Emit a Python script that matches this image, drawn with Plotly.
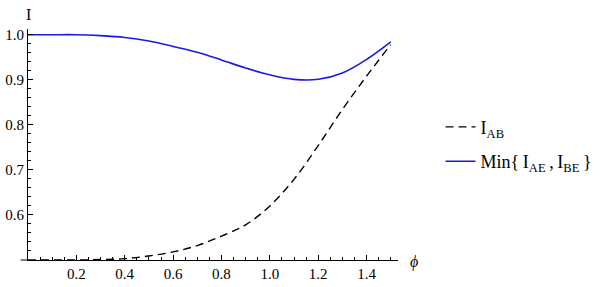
import plotly.graph_objects as go

phi = [0.0, 0.1, 0.2, 0.3, 0.4, 0.5, 0.6, 0.7, 0.8, 0.9, 1.0, 1.1, 1.2, 1.3, 1.4, 1.5]
i_ab = [0.500, 0.500, 0.500, 0.501, 0.503, 0.509, 0.518, 0.532, 0.553, 0.578, 0.620, 0.679, 0.754, 0.834, 0.908, 0.978]
min_ae_be = [1.000, 1.000, 1.000, 0.998, 0.994, 0.986, 0.974, 0.961, 0.944, 0.926, 0.911, 0.901, 0.901, 0.915, 0.945, 0.984]

x_ticks = [0.2, 0.4, 0.6, 0.8, 1.0, 1.2, 1.4]
y_ticks = [0.6, 0.7, 0.8, 0.9, 1.0]

font_family = "Liberation Serif"

fig = go.Figure()
fig.add_trace(go.Scatter(
    x=phi, y=i_ab, mode="lines", name="I<sub>AB</sub>", legendgroup="a",
    line=dict(color="black", width=1.4, dash="8px,5px", shape="spline", smoothing=1.0),
))
fig.add_trace(go.Scatter(
    x=phi, y=min_ae_be, mode="lines", legendgroup="b",
    name="Min{\u2009I<sub>AE</sub>\u2009,\u2009I<sub>BE</sub>\u2009}",
    line=dict(color="#1a1ae6", width=1.6, shape="spline", smoothing=1.0),
))

fig.update_layout(
    width=614, height=287,
    margin=dict(l=27.5, r=216, t=29, b=27, autoexpand=False),
    paper_bgcolor="white", plot_bgcolor="white",
    font=dict(family=font_family, size=14, color="black"),
    showlegend=True,
    legend=dict(x=1.115, y=0.655, xanchor="left", yanchor="top",
                font=dict(family=font_family, size=18, color="black"),
                bgcolor="rgba(0,0,0,0)", itemwidth=30, tracegroupgap=8),
    xaxis=dict(range=[0, 1.53], showgrid=False, zeroline=False, automargin=False,
               showline=True, linecolor="black", linewidth=1,
               tickvals=x_ticks, ticktext=[f"{v:.1f}" for v in x_ticks],
               ticks="inside", ticklen=5, tickcolor="black", tickwidth=1,
               minor=dict(dtick=0.05, tick0=0, ticks="inside", ticklen=3, tickcolor="black", tickwidth=1),
               tickfont=dict(family=font_family, size=15, color="black")),
    yaxis=dict(range=[0.5, 1.0127], showgrid=False, zeroline=False, automargin=False,
               showline=True, linecolor="black", linewidth=1,
               tickvals=y_ticks, ticktext=[f"{v:.1f}" for v in y_ticks],
               ticks="inside", ticklen=5, tickcolor="black", tickwidth=1,
               minor=dict(dtick=0.02, tick0=0.5, ticks="inside", ticklen=3, tickcolor="black", tickwidth=1),
               tickfont=dict(family=font_family, size=15, color="black")),
    annotations=[
        dict(text="I", xref="paper", yref="paper", x=0.0, y=1.0, xanchor="center", yanchor="bottom",
             yshift=4, showarrow=False, font=dict(family=font_family, size=16, color="black")),
        dict(text="<i>ϕ</i>", xref="paper", yref="paper", x=1.0, y=0.0, xanchor="left", yanchor="middle",
             xshift=10, yshift=-2, showarrow=False, font=dict(family=font_family, size=16, color="black")),
    ],
    shapes=[
        dict(type="line", xref="paper", yref="paper", x0=-0.02, x1=0, y0=0, y1=0,
             line=dict(color="black", width=1)),
    ],
)

fig.write_html("out.html", config={"displayModeBar": False},
               post_script="document.body.style.margin='0';document.body.style.padding='0';")
